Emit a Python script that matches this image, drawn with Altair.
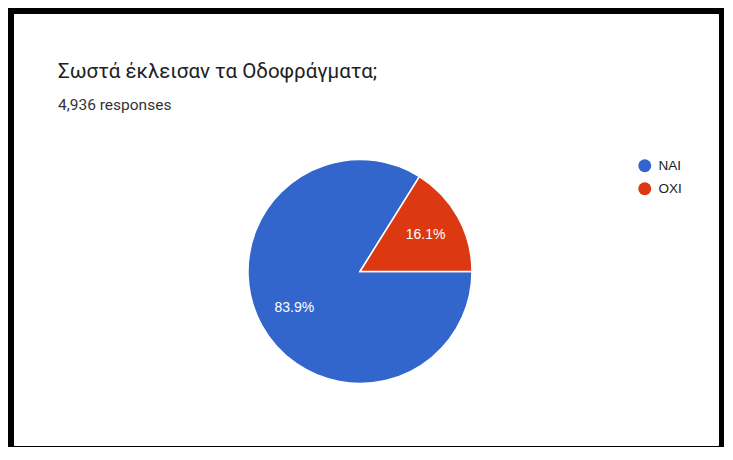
import math
import altair as alt
import pandas as pd

title_text = "Σωστά έκλεισαν τα Οδοφράγματα;"
subtitle_text = "4,936 responses"
categories = ["NAI", "OXI"]
values = [83.9, 16.1]
labels = ["83.9%", "16.1%"]
order = [0, 1]
colors = ["#3366CC", "#DC3912"]

df = pd.DataFrame({"cat": categories, "val": values, "label": labels, "ord": order})

cx, cy = 346, 257.5
theta_scale = alt.Scale(range=[math.pi / 2, math.pi / 2 + 2 * math.pi])

base = alt.Chart(df).encode(
    theta=alt.Theta("val:Q", stack=True, scale=theta_scale),
    order=alt.Order("ord:Q"),
)

pie = base.mark_arc(outerRadius=112, stroke="white", strokeWidth=1.5).encode(
    color=alt.Color(
        "cat:N",
        scale=alt.Scale(domain=categories, range=colors),
        legend=alt.Legend(
            title=None,
            orient="none",
            legendX=624,
            legendY=145,
            symbolType="circle",
            symbolSize=169,
            symbolStrokeWidth=0,
            labelFont="Liberation Sans",
            labelFontSize=13.5,
            labelColor="#222222",
            labelOffset=7,
            rowPadding=8,
            padding=0,
        ),
    ),
    x=alt.value(cx),
    y=alt.value(cy),
)

pct = base.mark_text(
    radius=75, font="Liberation Sans", fontSize=14, color="white"
).encode(text="label:N", x=alt.value(cx), y=alt.value(cy))

title = alt.Chart(pd.DataFrame({"t": [title_text]})).mark_text(
    align="left", baseline="alphabetic", font="Roboto", fontSize=20.5, color="#202124"
).encode(text="t:N", x=alt.value(44), y=alt.value(64))

subtitle = alt.Chart(pd.DataFrame({"t": [subtitle_text]})).mark_text(
    align="left", baseline="alphabetic", font="Roboto", fontSize=15.5, color="#333333"
).encode(text="t:N", x=alt.value(44), y=alt.value(96))

chart = (
    alt.layer(pie, pct, title, subtitle)
    .properties(
        width=704,
        height=431,
        padding={"left": 6, "top": 6, "right": 6, "bottom": 2},
        autosize="none",
        background="black",
    )
    .configure_view(fill="white", stroke="white")
)

chart.save("out.html", embed_options={"renderer": "svg", "actions": False})
